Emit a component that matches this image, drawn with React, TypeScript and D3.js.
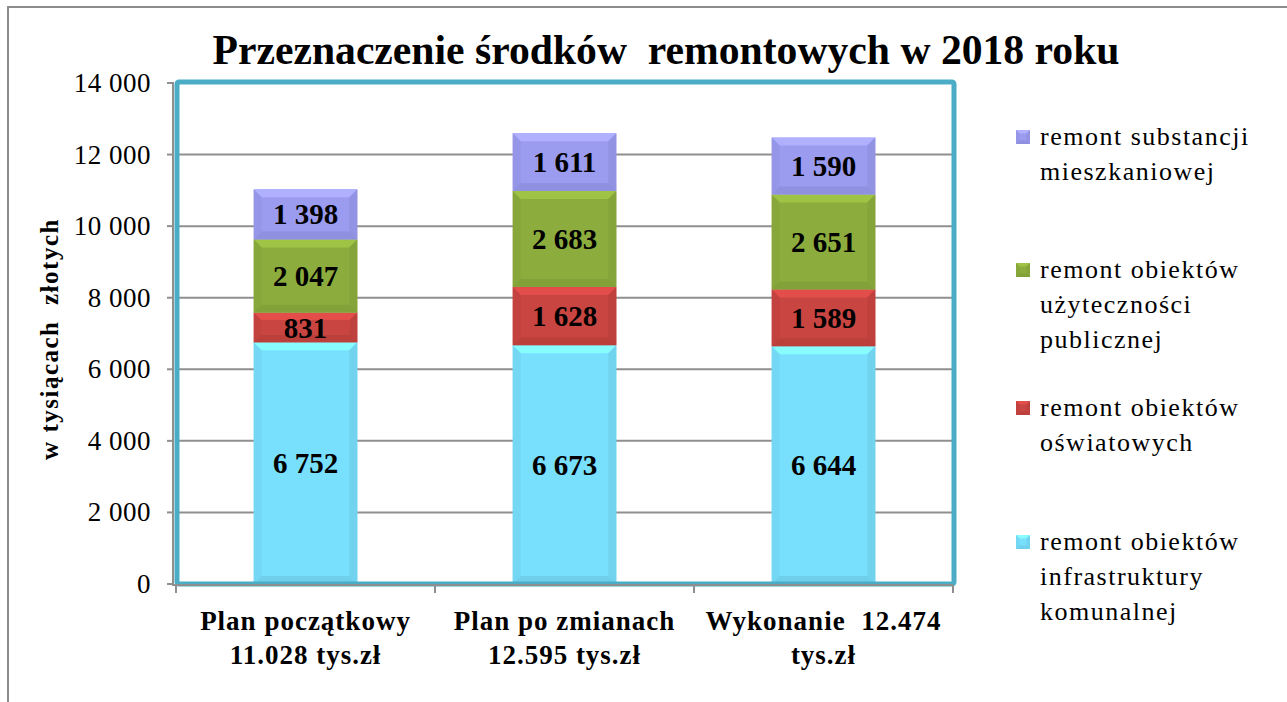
import React from "react";
import * as d3 from "d3";

const categories = ["Plan początkowy", "Plan po zmianach", "Wykonanie"];
const categoryLabels = [
  ["Plan początkowy", "11.028 tys.zł"],
  ["Plan po zmianach", "12.595 tys.zł"],
  ["Wykonanie  12.474", "tys.zł"],
];

const infrastruktura = [6752, 6673, 6644];
const oswiatowe = [831, 1628, 1589];
const uzytecznosc = [2047, 2683, 2651];
const substancja = [1398, 1611, 1590];

const seriesNames = ["infrastruktura", "oswiatowe", "uzytecznosc", "substancja"];
const seriesColors = ["#78DFFC", "#C94541", "#8CAD3D", "#9B9BF0"];

const legendLabels = [
  ["remont substancji", "mieszkaniowej"],
  ["remont obiektów", "użyteczności", "publicznej"],
  ["remont obiektów", "oświatowych"],
  ["remont obiektów", "infrastruktury", "komunalnej"],
];
const legendColors = ["#9B9BF0", "#8CAD3D", "#C94541", "#78DFFC"];

const yTicks = [0, 2000, 4000, 6000, 8000, 10000, 12000, 14000];

const font = "'Liberation Serif', 'Times New Roman', 'DejaVu Serif', serif";
const tStyle: React.CSSProperties = { fontFamily: font, whiteSpace: "pre" };

const fmt = (v: number) => d3.format(",")(v).replace(/,/g, " ");

function BevelRect({ x, y, w, h, color }: { x: number; y: number; w: number; h: number; color: string }) {
  const b = Math.min(8, h / 4);
  const c = d3.color(color)!;
  const light = c.brighter(0.35).formatHex();
  const side = c.darker(0.15).formatHex();
  const dark = c.darker(0.3).formatHex();
  return (
    <g>
      <rect x={x} y={y} width={w} height={h} fill={color} />
      <polygon points={`${x},${y} ${x + w},${y} ${x + w - b},${y + b} ${x + b},${y + b}`} fill={light} />
      <polygon points={`${x},${y} ${x + b},${y + b} ${x + b},${y + h - b} ${x},${y + h}`} fill={side} opacity={0.6} />
      <polygon points={`${x + w},${y} ${x + w},${y + h} ${x + w - b},${y + h - b} ${x + w - b},${y + b}`} fill={side} />
      <polygon points={`${x},${y + h} ${x + w},${y + h} ${x + w - b},${y + h - b} ${x + b},${y + h - b}`} fill={dark} opacity={0.7} />
    </g>
  );
}

export default function App() {
  const width = 1287;
  const height = 702;
  const plotLeft = 176;
  const plotRight = 953;
  const plotTop = 83;
  const plotBottom = 584;

  const x = d3.scaleBand<string>().domain(categories).range([plotLeft, plotRight]).paddingInner(0.6).paddingOuter(0.3);
  const y = d3.scaleLinear().domain([0, 14000]).range([plotBottom, plotTop]);

  const table = categories.map((c, i) => ({
    cat: c,
    infrastruktura: infrastruktura[i],
    oswiatowe: oswiatowe[i],
    uzytecznosc: uzytecznosc[i],
    substancja: substancja[i],
  }));
  const stacked = d3.stack<any>().keys(seriesNames)(table);

  const step = x.step();
  const boundaries = d3.range(categories.length + 1).map((i) => plotLeft + i * step);

  return (
    <svg width={width} height={height} style={{ position: "absolute", left: 0, top: 0, background: "#fff" }}>
      <rect x={8} y={7} width={1300} height={720} fill="#fff" stroke="#8c8c8c" strokeWidth={2} />

      <text x={666} y={64} textAnchor="middle" fontSize={42} fontWeight="bold" textLength={907} lengthAdjust="spacingAndGlyphs" style={tStyle}>
        Przeznaczenie środków  remontowych w 2018 roku
      </text>

      {yTicks.map((t) => (
        <g key={t}>
          {t > 0 && t < 14000 && (
            <line x1={plotLeft} x2={plotRight} y1={y(t)} y2={y(t)} stroke="#8f8f8f" strokeWidth={2} />
          )}
          <line x1={167} x2={174} y1={y(t)} y2={y(t)} stroke="#8f8f8f" strokeWidth={2} />
          <text x={151} y={y(t) + 9} textAnchor="end" fontSize={27} letterSpacing={0.5} style={tStyle}>
            {fmt(t)}
          </text>
        </g>
      ))}
      <line x1={173} x2={173} y1={plotTop} y2={plotBottom + 2} stroke="#8f8f8f" strokeWidth={2} />

      {stacked.map((s, si) =>
        s.map((d, i) => {
          const x0 = x(categories[i])!;
          const top = y(d[1]);
          const bot = y(d[0]);
          return <BevelRect key={`${si}-${i}`} x={x0} y={top} w={x.bandwidth()} h={bot - top} color={seriesColors[si]} />;
        })
      )}

      {stacked.map((s, si) =>
        s.map((d, i) => (
          <text
            key={`l-${si}-${i}`}
            x={x(categories[i])! + x.bandwidth() / 2}
            y={(y(d[0]) + y(d[1])) / 2 + 10}
            textAnchor="middle"
            fontSize={29}
            fontWeight="bold"
            style={tStyle}
          >
            {fmt(d[1] - d[0])}
          </text>
        ))
      )}

      <rect x={plotLeft + 1} y={plotTop - 1} width={plotRight - plotLeft} height={plotBottom - plotTop + 1} fill="none" stroke="#4BACC6" strokeWidth={5} rx={2} />
      <line x1={173} x2={plotRight} y1={plotBottom + 1} y2={plotBottom + 1} stroke="#8f8f8f" strokeWidth={2} />
      {boundaries.map((b, i) => (
        <line key={i} x1={b} x2={b} y1={plotBottom + 1} y2={plotBottom + 9} stroke="#8f8f8f" strokeWidth={2} />
      ))}

      {categoryLabels.map((lines, i) => (
        <text key={i} textAnchor="middle" fontSize={27} fontWeight="bold" letterSpacing={1} style={tStyle}>
          {lines.map((l, j) => (
            <tspan key={j} x={x(categories[i])! + x.bandwidth() / 2} y={630 + j * 34}>
              {l}
            </tspan>
          ))}
        </text>
      ))}

      <text transform="translate(58,339) rotate(-90)" textAnchor="middle" fontSize={25} fontWeight="bold" letterSpacing={1.5} style={tStyle}>
        w tysiącach  złotych
      </text>

      {legendLabels.map((lines, i) => {
        const baseY = [145, 278, 416, 550][i];
        return (
          <g key={i}>
            <BevelRect x={1016} y={baseY - 15} w={14} h={14} color={legendColors[i]} />
            {lines.map((l, j) => (
              <text key={j} x={1040} y={baseY + j * 35} fontSize={26} letterSpacing={1.5} style={tStyle}>
                {l}
              </text>
            ))}
          </g>
        );
      })}
    </svg>
  );
}
